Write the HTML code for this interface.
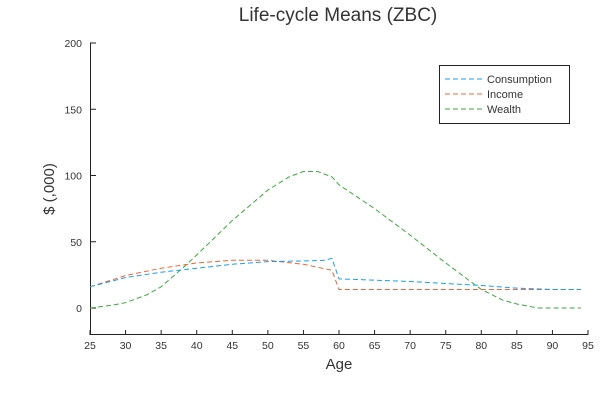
<!DOCTYPE html>
<html><head><meta charset="utf-8"><style>
body{margin:0;background:#fff}
svg text{font-family:"Liberation Sans",sans-serif;fill:#333}
</style></head><body>
<svg id="chart" width="600" height="400">
<text x="338" y="21" font-size="19" text-anchor="middle">Life-cycle Means (ZBC)</text>
<text x="339" y="369" font-size="15" text-anchor="middle">Age</text>
<text x="0" y="0" font-size="15" text-anchor="middle" transform="translate(54,189) rotate(-90)">$ (,000)</text>
<g id="axes"></g>
<g id="series"></g>
<g>
<rect x="439.5" y="65.5" width="130" height="58" fill="#fff" stroke="#222" stroke-width="1"/>
<line x1="445" y1="79" x2="482" y2="79" stroke="#1a9fe8" stroke-dasharray="5,3"/>
<text x="487" y="83" font-size="11">Consumption</text>
<line x1="445" y1="94" x2="482" y2="94" stroke="#e8673a" stroke-dasharray="5,3"/>
<text x="487" y="98" font-size="11">Income</text>
<line x1="445" y1="109" x2="482" y2="109" stroke="#3aaa3a" stroke-dasharray="5,3"/>
<text x="487" y="113" font-size="11">Wealth</text>
</g>
</svg>
<script>
const xTicks=[25,30,35,40,45,50,55,60,65,70,75,80,85,90,95];
const yTicks=[0,50,100,150,200];
const consAge=[25,30,35,40,45,50,55,58,59,60,65,70,75,80,85,90,94];
const consVal=[16,23,27,30,33,35,35.5,36,37.5,22,21,20,18.5,17,15,14,14];
const incAge=[25,30,35,40,45,50,55,59,60,65,70,75,80,85,90,94];
const incVal=[16,24.5,30,34,36,36,33,28.5,14,14,14,14,14,14,14,14];
const wAge=[25,28,30,33,35,38,40,45,50,53,55,57,59,60,65,70,75,80,83,85,88,90,94];
const wVal=[0,2,4,10,16,30,40,66,89,99,103,103,99,93,75,55,34,14,6,3,0,0,0];
const X=v=>90+(v-25)*(498/70);
const Y=v=>308-v*1.325;
const NS="http://www.w3.org/2000/svg";
const ax=document.getElementById('axes');
function mk(tag,attrs,parent){const e=document.createElementNS(NS,tag);for(const k in attrs)e.setAttribute(k,attrs[k]);parent.appendChild(e);return e;}
const xl=mk('line',{x1:90,y1:334.5,x2:588,y2:334.5,stroke:'#222'},ax);


const yl=mk('line',{x1:90.5,y1:43,x2:90.5,y2:335,stroke:'#222'},ax);


xTicks.forEach(t=>{
 mk('line',{x1:X(t),y1:335,x2:X(t),y2:330,stroke:'#222'},ax);
 const tx=mk('text',{x:X(t),y:349,'font-size':10.5,'text-anchor':'middle'},ax);tx.textContent=t;
 
 
});
yTicks.forEach(t=>{
 mk('line',{x1:90,y1:Y(t),x2:96,y2:Y(t),stroke:'#222'},ax);
 const tx=mk('text',{x:82,y:Y(t)+4,'font-size':10.5,'text-anchor':'end'},ax);tx.textContent=t;
 
 
});
const sg=document.getElementById('series');
function line(ages,vals,color,name){
 const p=mk('polyline',{points:ages.map((a,i)=>X(a)+','+Y(vals[i])).join(' '),fill:'none',stroke:color,'stroke-width':1,'stroke-dasharray':'5,3'},sg);
 
 
}
line(wAge,wVal,'#3aaa3a','wealth-line');
line(incAge,incVal,'#e8673a','income-line');
line(consAge,consVal,'#1a9fe8','consumption-line');
</script>
</body></html>
